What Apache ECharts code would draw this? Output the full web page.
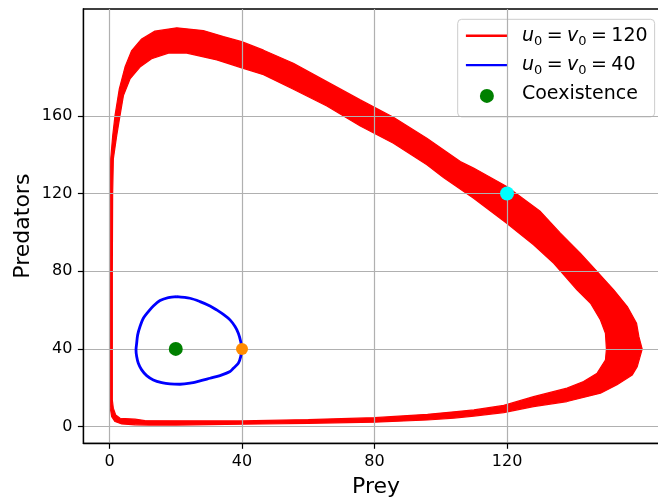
<!DOCTYPE html>
<html>
<head>
<meta charset="utf-8">
<script src="https://cdn.jsdelivr.net/npm/echarts@6/dist/echarts.min.js"></script>
<style>
  html, body { margin: 0; padding: 0; background: #ffffff; }
  #chart { width: 658px; height: 500px; }
</style>
</head>
<body>
<div id="chart"></div>
<script>
// Tick positions shown on each axis
const xTicks = [0, 40, 80, 120];
const yTicks = [0, 40, 80, 120, 160];

// Predator-prey orbit started at u0 = v0 = 120: the integration drifts,
// so the trajectory sweeps out a band. Outer edge of that band, [prey, predators].
const redOuter = [
  [0.15, 10.3], [0.66, 5.1], [1.66, 2.6], [3.7, 1.4], [7.7, 0.9], [12, 0.8],
  [20, 0.8], [30, 1.0], [40, 1.2], [60, 1.7], [80, 2.3], [96, 3.4], [104, 4.4],
  [110, 5.4], [119, 7.2], [128, 10.3], [138.1, 12.9], [148.2, 17.2], [153.2, 21.5],
  [157.8, 26.6], [159.3, 30.9], [160.8, 39.9], [159.8, 46.3], [159.1, 53.2],
  [156.3, 61.8], [152.2, 70.4], [147.2, 79.8], [142.1, 89.3], [136.1, 99.6],
  [130.1, 110.7], [119.9, 123.6], [109.9, 133.1], [105.9, 136.5], [95.8, 148.5],
  [85.7, 159.3], [75.7, 168.2], [65.6, 177.6], [55.5, 187.1], [46.5, 193.8],
  [39.9, 198.2], [34.4, 200.8], [28.3, 203.9], [20.3, 205.3], [13.7, 203.6],
  [9.7, 199.6], [6.7, 193.6], [4.68, 185.1], [2.96, 173.9], [1.66, 160.1],
  [0.97, 149.8], [0.36, 137.8], [0.2, 110], [0.15, 60], [0.15, 20], [0.15, 10.3]
];
// Inner edge of the same band
const redInner = [
  [0.85, 13.7], [1.15, 9.5], [1.87, 6.0], [3.2, 4.3], [7.7, 3.8], [10.7, 3.1],
  [20, 3.0], [40, 2.9], [60, 3.6], [80, 4.6], [96, 6.3], [104, 7.6], [110, 8.6],
  [119, 10.9], [128, 15.4], [138.1, 19.8], [143.1, 23.2], [147.2, 27.5],
  [149.7, 34.3], [150, 39.9], [149.7, 48.1], [148.2, 54.9], [145.2, 63.5],
  [141.1, 70.4], [134.1, 84.1], [128, 93.6], [119.9, 104.7], [109.9, 117.6],
  [100.8, 128.3], [95.8, 134.8], [85.7, 145.9], [75.7, 154.8], [65.6, 165.1],
  [55.5, 173.7], [46.5, 181.2], [39.9, 184.7], [32.4, 188.8], [23.3, 192.3],
  [17.8, 192.3], [12.7, 189.4], [9.2, 185.1], [6.19, 179.0], [4.2, 170.4],
  [3.17, 160.1], [2.17, 149.8], [1.16, 137.8], [0.95, 120], [0.85, 80],
  [0.85, 40], [0.85, 13.7]
];

// Closed orbit started at u0 = v0 = 40
const blueLoop = [
  [20.28, 66.94], [24.30, 66.08], [27.32, 64.37], [30.34, 62.14], [32.35, 60.08],
  [34.57, 57.50], [36.38, 54.93], [37.89, 51.50], [38.89, 48.07], [39.60, 43.77],
  [39.90, 40.00], [39.60, 36.05], [38.89, 32.62], [37.38, 30.05], [36.38, 28.33],
  [33.36, 26.27], [30.34, 24.90], [27.32, 23.53], [24.30, 22.33], [21.28, 21.81],
  [18.26, 21.98], [15.75, 22.67], [13.23, 24.04], [11.22, 26.27], [9.71, 29.19],
  [8.70, 32.62], [8.20, 36.05], [8.00, 39.49], [8.20, 42.92], [8.50, 47.21],
  [9.21, 51.50], [10.21, 55.79], [11.72, 59.22], [13.23, 62.14], [15.25, 64.88],
  [17.76, 66.43], [20.28, 66.94]
];

// Equilibrium and the two starting states
const coexistence = [[20, 40]];
const start120 = [[120, 120]];
const start40 = [[40, 40]];

const FONT = 'DejaVu Sans';
const NAME_120 = 'u0 = v0 = 120';
const NAME_40 = 'u0 = v0 = 40';
const NAME_EQ = 'Coexistence';

const chart = echarts.init(document.getElementById('chart'), null, { renderer: 'canvas' });

const axisCommon = {
  type: 'value',
  z: 3,
  axisLine: { show: true, onZero: false, lineStyle: { color: '#000', width: 1.3 } },
  axisTick: { show: true, inside: false, length: 5.5, lineStyle: { color: '#000', width: 1.2 } },
  splitLine: { show: true, lineStyle: { color: '#b0b0b0', width: 1.2 } },
  nameLocation: 'middle',
  nameMoveOverlap: false,
  nameTextStyle: { fontFamily: FONT, fontSize: 22, color: '#000' }
};

chart.setOption({
  animation: false,
  backgroundColor: '#ffffff',
  grid: {
    left: 83.4, top: 9, width: 585.3, height: 434.3,
    outerBoundsMode: 'none',
    containLabel: false,
    show: true, borderColor: '#000', borderWidth: 1.3
  },
  xAxis: Object.assign({}, axisCommon, {
    min: -7.88, max: 168.8,
    name: 'Prey', nameGap: 33,
    axisTick: Object.assign({}, axisCommon.axisTick, { customValues: xTicks }),
    axisLabel: { customValues: xTicks, margin: 11, fontFamily: FONT, fontSize: 16, color: '#000' }
  }),
  yAxis: Object.assign({}, axisCommon, {
    min: -8.6, max: 215.0,
    name: 'Predators', nameGap: 49,
    axisTick: Object.assign({}, axisCommon.axisTick, { customValues: yTicks }),
    axisLabel: { customValues: yTicks, margin: 11, fontFamily: FONT, fontSize: 16, color: '#000' }
  }),
  legend: {
    orient: 'vertical',
    left: 457.7, top: 19.3,
    z: 2,
    itemWidth: 42, itemHeight: 14, itemGap: 7.8,
    padding: [7, 7, 13, 7],
    backgroundColor: 'rgba(255,255,255,0.8)',
    borderColor: '#cccccc', borderWidth: 1, borderRadius: 4,
    selectedMode: false,
    data: [
      { name: NAME_120, itemStyle: { opacity: 0 }, lineStyle: { width: 2.4, color: '#ff0000', opacity: 1 } },
      { name: NAME_40, itemStyle: { opacity: 0 }, lineStyle: { width: 2.4, color: '#0000ff', opacity: 1 } },
      { name: NAME_EQ, icon: 'circle', itemStyle: { color: '#008000', opacity: 1 }, textStyle: { padding: [0, 0, 3, 9] } }
    ],
    formatter: function (name) {
      if (name === NAME_120) return '{i|u}{s|0}{sp| }{n|=}{sp| }{i|v}{s|0}{sp| }{n|=}{sp| }{n|120}';
      if (name === NAME_40) return '{i|u}{s|0}{sp| }{n|=}{sp| }{i|v}{s|0}{sp| }{n|=}{sp| }{n|40}';
      return '{n|' + name + '}';
    },
    textStyle: {
      fontFamily: FONT, fontSize: 19, color: '#000',
      padding: [0, 0, 0, 9],
      rich: {
        i: { fontFamily: FONT, fontSize: 19, fontStyle: 'italic', lineHeight: 24, color: '#000' },
        s: { fontFamily: FONT, fontSize: 13, lineHeight: 13, verticalAlign: 'bottom', color: '#000' },
        sp: { fontFamily: FONT, fontSize: 14, lineHeight: 24, color: '#000' },
        n: { fontFamily: FONT, fontSize: 19, lineHeight: 24, color: '#000' }
      }
    }
  },
  series: [
    {
      name: NAME_120, type: 'line', data: redOuter, symbol: 'none', z: 2,
      itemStyle: { color: '#ff0000' },
      lineStyle: { color: '#ff0000', width: 1.2 }, silent: true
    },
    {
      name: NAME_120, type: 'line', data: redInner, symbol: 'none', z: 2,
      itemStyle: { color: '#ff0000' },
      lineStyle: { color: '#ff0000', width: 1.2 }, silent: true
    },
    {
      // filled band between the outer and inner edges of the drifting orbit
      name: 'orbit band', type: 'custom', z: 2, silent: true,
      data: [[0, 0]],
      renderItem: function (params, api) {
        const pts = redOuter.map(function (p) { return api.coord(p); })
          .concat(redInner.slice().reverse().map(function (p) { return api.coord(p); }));
        return { type: 'polygon', shape: { points: pts }, style: { fill: '#ff0000', stroke: null } };
      }
    },
    {
      name: NAME_40, type: 'line', data: blueLoop, symbol: 'none', smooth: 0.3, z: 4,
      itemStyle: { color: '#0000ff' },
      lineStyle: { color: '#0000ff', width: 2.8 }, silent: true
    },
    {
      name: NAME_EQ, type: 'scatter', data: coexistence, symbol: 'circle', symbolSize: 14, z: 5,
      itemStyle: { color: '#008000', opacity: 1 }, silent: true
    },
    {
      name: 'start 120', type: 'scatter', data: start120, symbol: 'circle', symbolSize: 14, z: 5,
      itemStyle: { color: '#00ffff', opacity: 1 }, silent: true
    },
    {
      name: 'start 40', type: 'scatter', data: start40, symbol: 'circle', symbolSize: 12, z: 5,
      itemStyle: { color: '#ff8c00', opacity: 1 }, silent: true
    }
  ]
});
</script>
</body>
</html>
